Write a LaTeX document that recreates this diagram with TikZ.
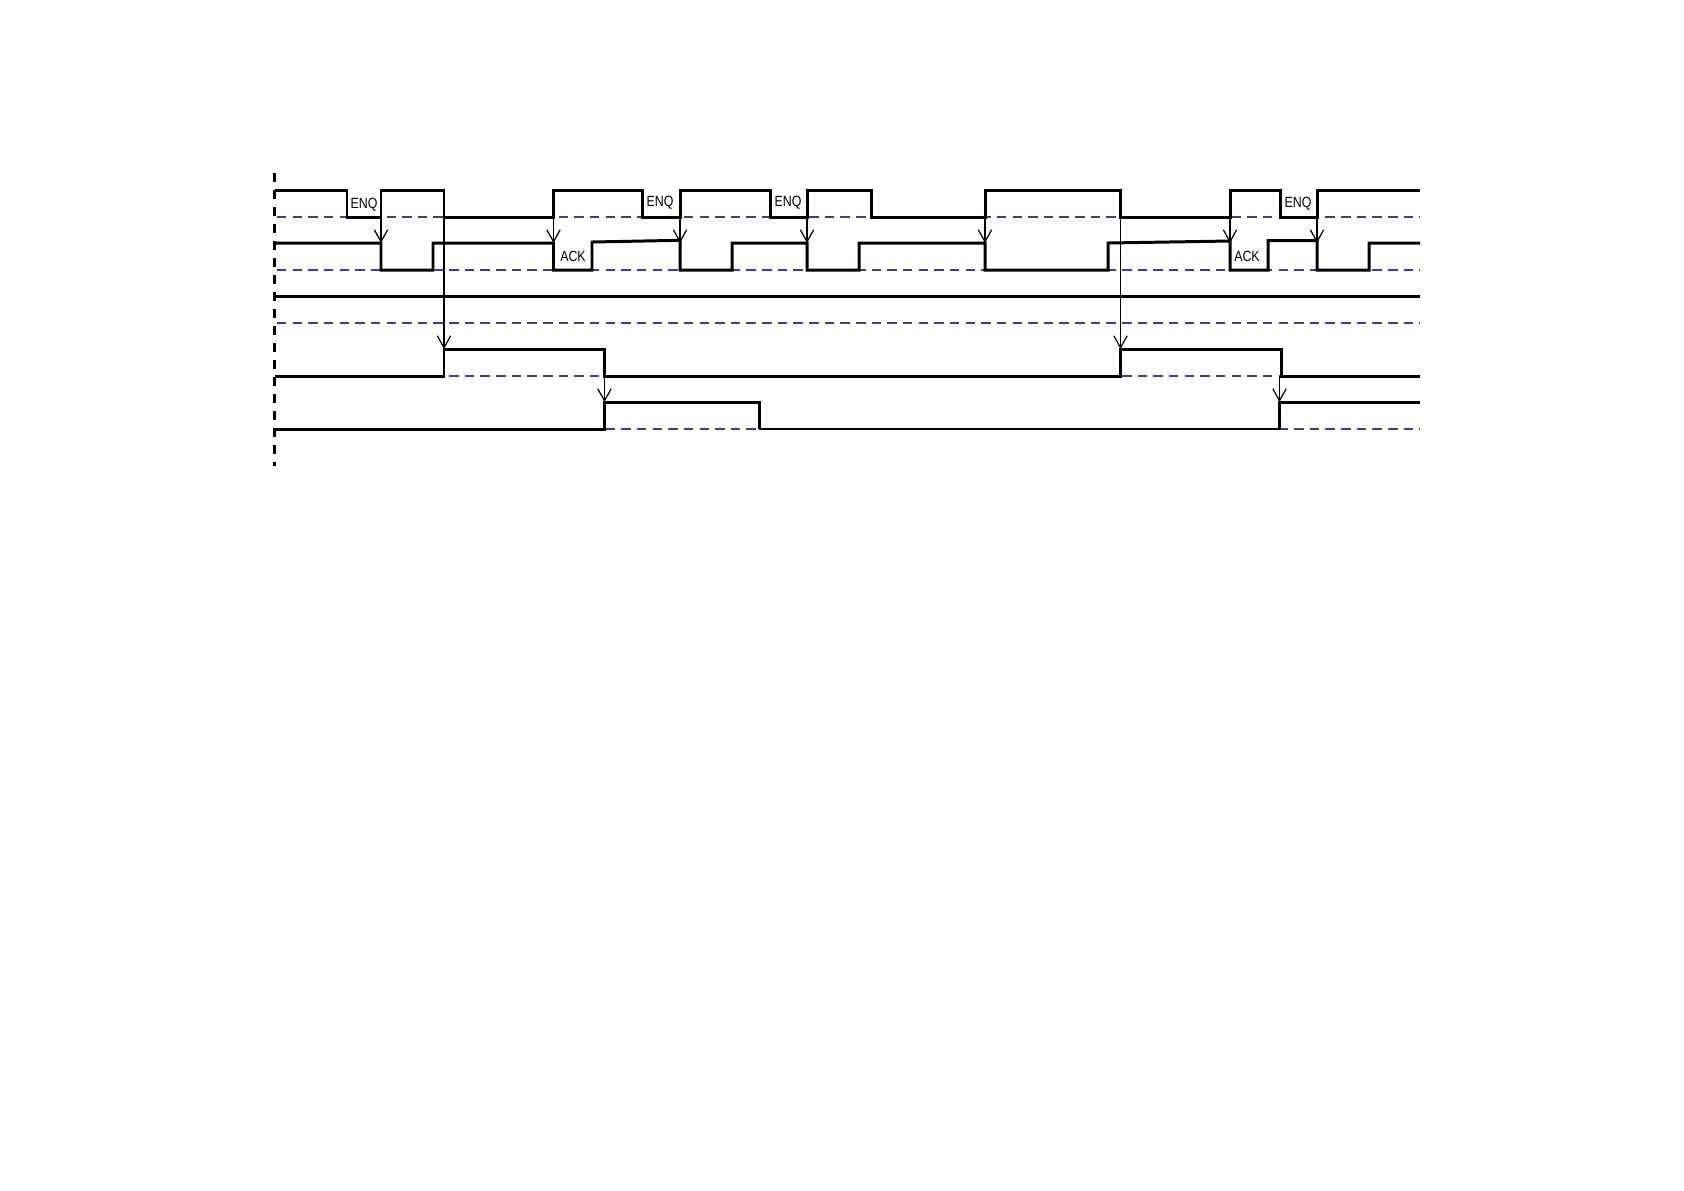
\documentclass[tikz,border=0pt]{standalone}
\usepackage{fontspec}
\setsansfont{Liberation Sans}
\usetikzlibrary{arrows.meta}
\definecolor{baseblue}{RGB}{64,58,146}
\begin{document}
\begin{tikzpicture}[x=0.01cm, y=-0.01cm,
            sig/.style={line width=0.85pt},
            thinsig/.style={line width=0.5pt},
            base/.style={baseblue, line width=0.6pt, dash pattern=on 2.7pt off 1.75pt},
            cause/.style={line width=0.35pt, -{Straight Barb[length=3.4pt, width=3.8pt]}},
            lbl/.style={font=\sffamily\fontsize{4.2pt}{5pt}\selectfont, inner sep=0pt, xscale=0.84}]
            \useasboundingbox (0,0) rectangle (1684,1190);

            % time origin
            \draw[line width=0.6pt, dash pattern=on 2.56pt off 2.28pt] (274.5,173) -- (274.5,466);

            % baselines of the five signals
            \foreach \y in {217,270,323,376,429}
                \draw[base] (277,\y) -- (1420,\y);

            % signal 1
            \draw[sig] (275,190) -- (347,190) -- (347,217) -- (381,217) -- (381,190) -- (444,190) -- (444,217)
                -- (553.5,217) -- (553.5,190) -- (642,190) -- (642,217) -- (680,217) -- (680,190) -- (770,190)
                -- (770,217) -- (807,217) -- (807,190) -- (871,190) -- (871,217) -- (985,217) -- (985,190)
                -- (1120.5,190) -- (1120.5,217) -- (1230,217) -- (1230,190) -- (1280,190) -- (1280,217)
                -- (1317,217) -- (1317,190) -- (1420,190);

            % signal 2
            \draw[sig] (275,243) -- (381,243) -- (381,270) -- (433,270) -- (433,243) -- (553.5,243) -- (553.5,270)
                -- (592,270) -- (592,242) -- (680,240.3) -- (680,270) -- (732,270) -- (732,243) -- (807,243)
                -- (807,270) -- (859,270) -- (859,243) -- (985,243) -- (985,270) -- (1108,270) -- (1108,243)
                -- (1230,241) -- (1230,270) -- (1268,270) -- (1268,240.7) -- (1317,240.7) -- (1317,270)
                -- (1369,270) -- (1369,243) -- (1420,243);

            % signal 3
            \draw[sig] (275,296) -- (1420,296);

            % signal 4
            \draw[sig] (275,376) -- (444,376) -- (444,349) -- (604.5,349) -- (604.5,376) -- (1120.5,376)
                -- (1120.5,349) -- (1281,349) -- (1281,376) -- (1420,376);

            % signal 5
            \draw[sig] (275,429) -- (604.5,429) -- (604.5,402) -- (759,402) -- (759,429);
            \draw[thinsig] (759,429) -- (1279.5,429);
            \draw[sig] (1279.5,429) -- (1279.5,402) -- (1420,402);

            % causal arrows
            \foreach \x [count=\i] in {381,553.5,680,807,985,1230,1317} {
                \coordinate (s\i) at (\x,217);
                \coordinate (t\i) at (\x,243);
                \draw[cause] (s\i) -- (t\i);
            }
            \coordinate (u1) at (444,217);
            \coordinate (v1) at (444,349);
            \coordinate (u2) at (1120.5,217);
            \coordinate (v2) at (1120.5,349);
            \coordinate (p1) at (604.5,376);
            \coordinate (q1) at (604.5,402);
            \coordinate (p2) at (1279.5,376);
            \coordinate (q2) at (1279.5,402);
            \draw[cause] (u1) -- (v1);
            \draw[cause] (u2) -- (v2);
            \draw[cause] (p1) -- (q1);
            \draw[cause] (p2) -- (q2);

            % labels
            \node[lbl] (enq1) at (364,205) {ENQ};
            \node[lbl] (enq2) at (660,202.5) {ENQ};
            \node[lbl] (enq3) at (788,202.5) {ENQ};
            \node[lbl] (enq4) at (1298,203.5) {ENQ};
            \node[lbl] (ack1) at (573,256) {ACK};
            \node[lbl] (ack2) at (1247,256) {ACK};
        \end{tikzpicture}
\end{document}
